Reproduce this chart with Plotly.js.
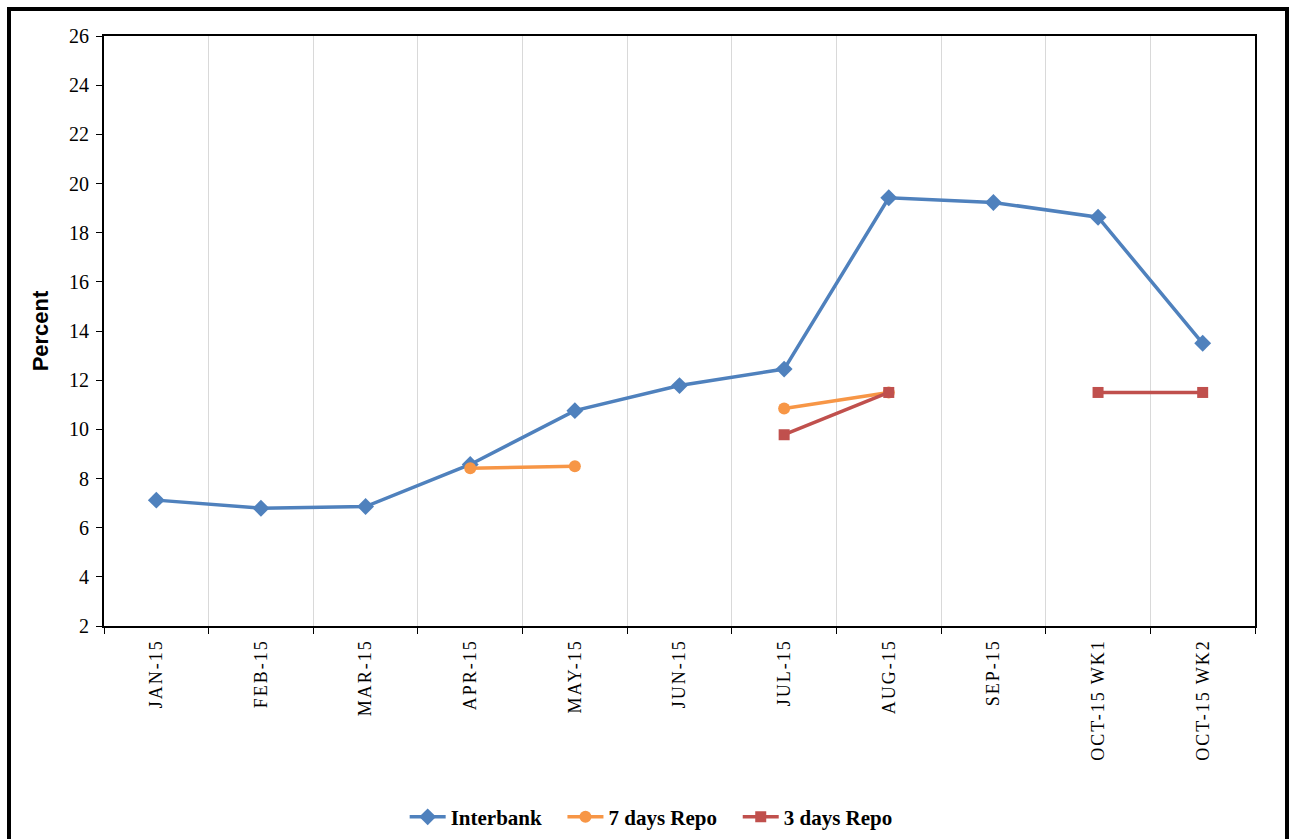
<!DOCTYPE html>
<html>
<head>
<meta charset="utf-8">
<script src="https://cdn.plot.ly/plotly-3.0.1.min.js"></script>
<style>
  html, body { margin: 0; padding: 0; background: #fff; }
  #wrap { position: relative; width: 1292px; height: 839px; overflow: hidden; }
  #frame { position: absolute; left: 7px; top: 7px; width: 1274px; height: 900px; border: 4px solid #000; pointer-events: none; z-index: 5; }
  #chart { position: absolute; left: 0; top: 0; width: 1292px; height: 839px; }
  .xtick text { letter-spacing: 2px; }
</style>
</head>
<body>
<div id="wrap">
  <div id="chart"></div>
  <div id="frame"></div>
</div>
<script>
const categories = ["JAN-15", "FEB-15", "MAR-15", "APR-15", "MAY-15", "JUN-15", "JUL-15", "AUG-15", "SEP-15", "OCT-15 WK1", "OCT-15 WK2"];
const interbank = [7.12, 6.79, 6.86, 8.57, 10.76, 11.78, 12.45, 19.42, 19.23, 18.63, 13.5];
const repo7 = [null, null, null, 8.42, 8.5, null, 10.85, 11.5, null, null, null];
const repo3 = [null, null, null, null, null, null, 9.78, 11.5, null, 11.5, 11.5];
const yTicks = [2, 4, 6, 8, 10, 12, 14, 16, 18, 20, 22, 24, 26];
const seriesNames = ["Interbank\u00a0\u00a0\u00a0", "7 days Repo\u00a0\u00a0\u00a0", "3 days Repo"];

const serif = '"Liberation Serif", "Times New Roman", serif';

const traces = [
  { x: categories, y: interbank, name: seriesNames[0], type: "scatter", mode: "lines+markers",
    line: { color: "#4F81BD", width: 3.5 }, marker: { symbol: "diamond", size: 13, color: "#4F81BD" } },
  { x: categories, y: repo7, name: seriesNames[1], type: "scatter", mode: "lines+markers",
    line: { color: "#F79646", width: 3.5 }, marker: { symbol: "circle", size: 12, color: "#F79646" } },
  { x: categories, y: repo3, name: seriesNames[2], type: "scatter", mode: "lines+markers",
    line: { color: "#C0504D", width: 3.5 }, marker: { symbol: "square", size: 11, color: "#C0504D" } }
];

const layout = {
  width: 1292, height: 839,
  margin: { l: 104, r: 37, t: 36, b: 213 },
  paper_bgcolor: "#fff", plot_bgcolor: "#fff",
  showlegend: true,
  legend: {
    orientation: "h", xref: "container", yref: "container",
    x: 0.504, xanchor: "center", y: 0.026, yanchor: "middle",
    font: { family: serif, size: 21, color: "#000", weight: "bold" },
    itemwidth: 36
  },
  xaxis: {
    type: "category", tickson: "boundaries", range: [-0.5, 10.5], autorange: false,
    showgrid: true, gridcolor: "#d9d9d9", gridwidth: 1,
    showline: true, linecolor: "#000", linewidth: 2, mirror: true,
    ticks: "outside", ticklen: 6, tickcolor: "#000", tickwidth: 1,
    tickangle: -90, ticklabelstandoff: 4,
    tickfont: { family: serif, size: 18, color: "#000" },
    zeroline: false, fixedrange: true
  },
  yaxis: {
    range: [2, 26], autorange: false, tickvals: yTicks, ticktext: yTicks.map(String),
    showgrid: false,
    showline: true, linecolor: "#000", linewidth: 2, mirror: true,
    ticks: "outside", ticklen: 6, tickcolor: "#000", tickwidth: 1,
    tickfont: { family: serif, size: 20, color: "#000" },
    ticklabelstandoff: 3,
    title: { text: "Percent", standoff: 14,
      font: { family: '"Liberation Sans", Arial, sans-serif', size: 22, color: "#000", weight: "bold" } },
    zeroline: false, fixedrange: true
  }
};

Plotly.newPlot("chart", traces, layout, { displayModeBar: false, staticPlot: true });
</script>
</body>
</html>
